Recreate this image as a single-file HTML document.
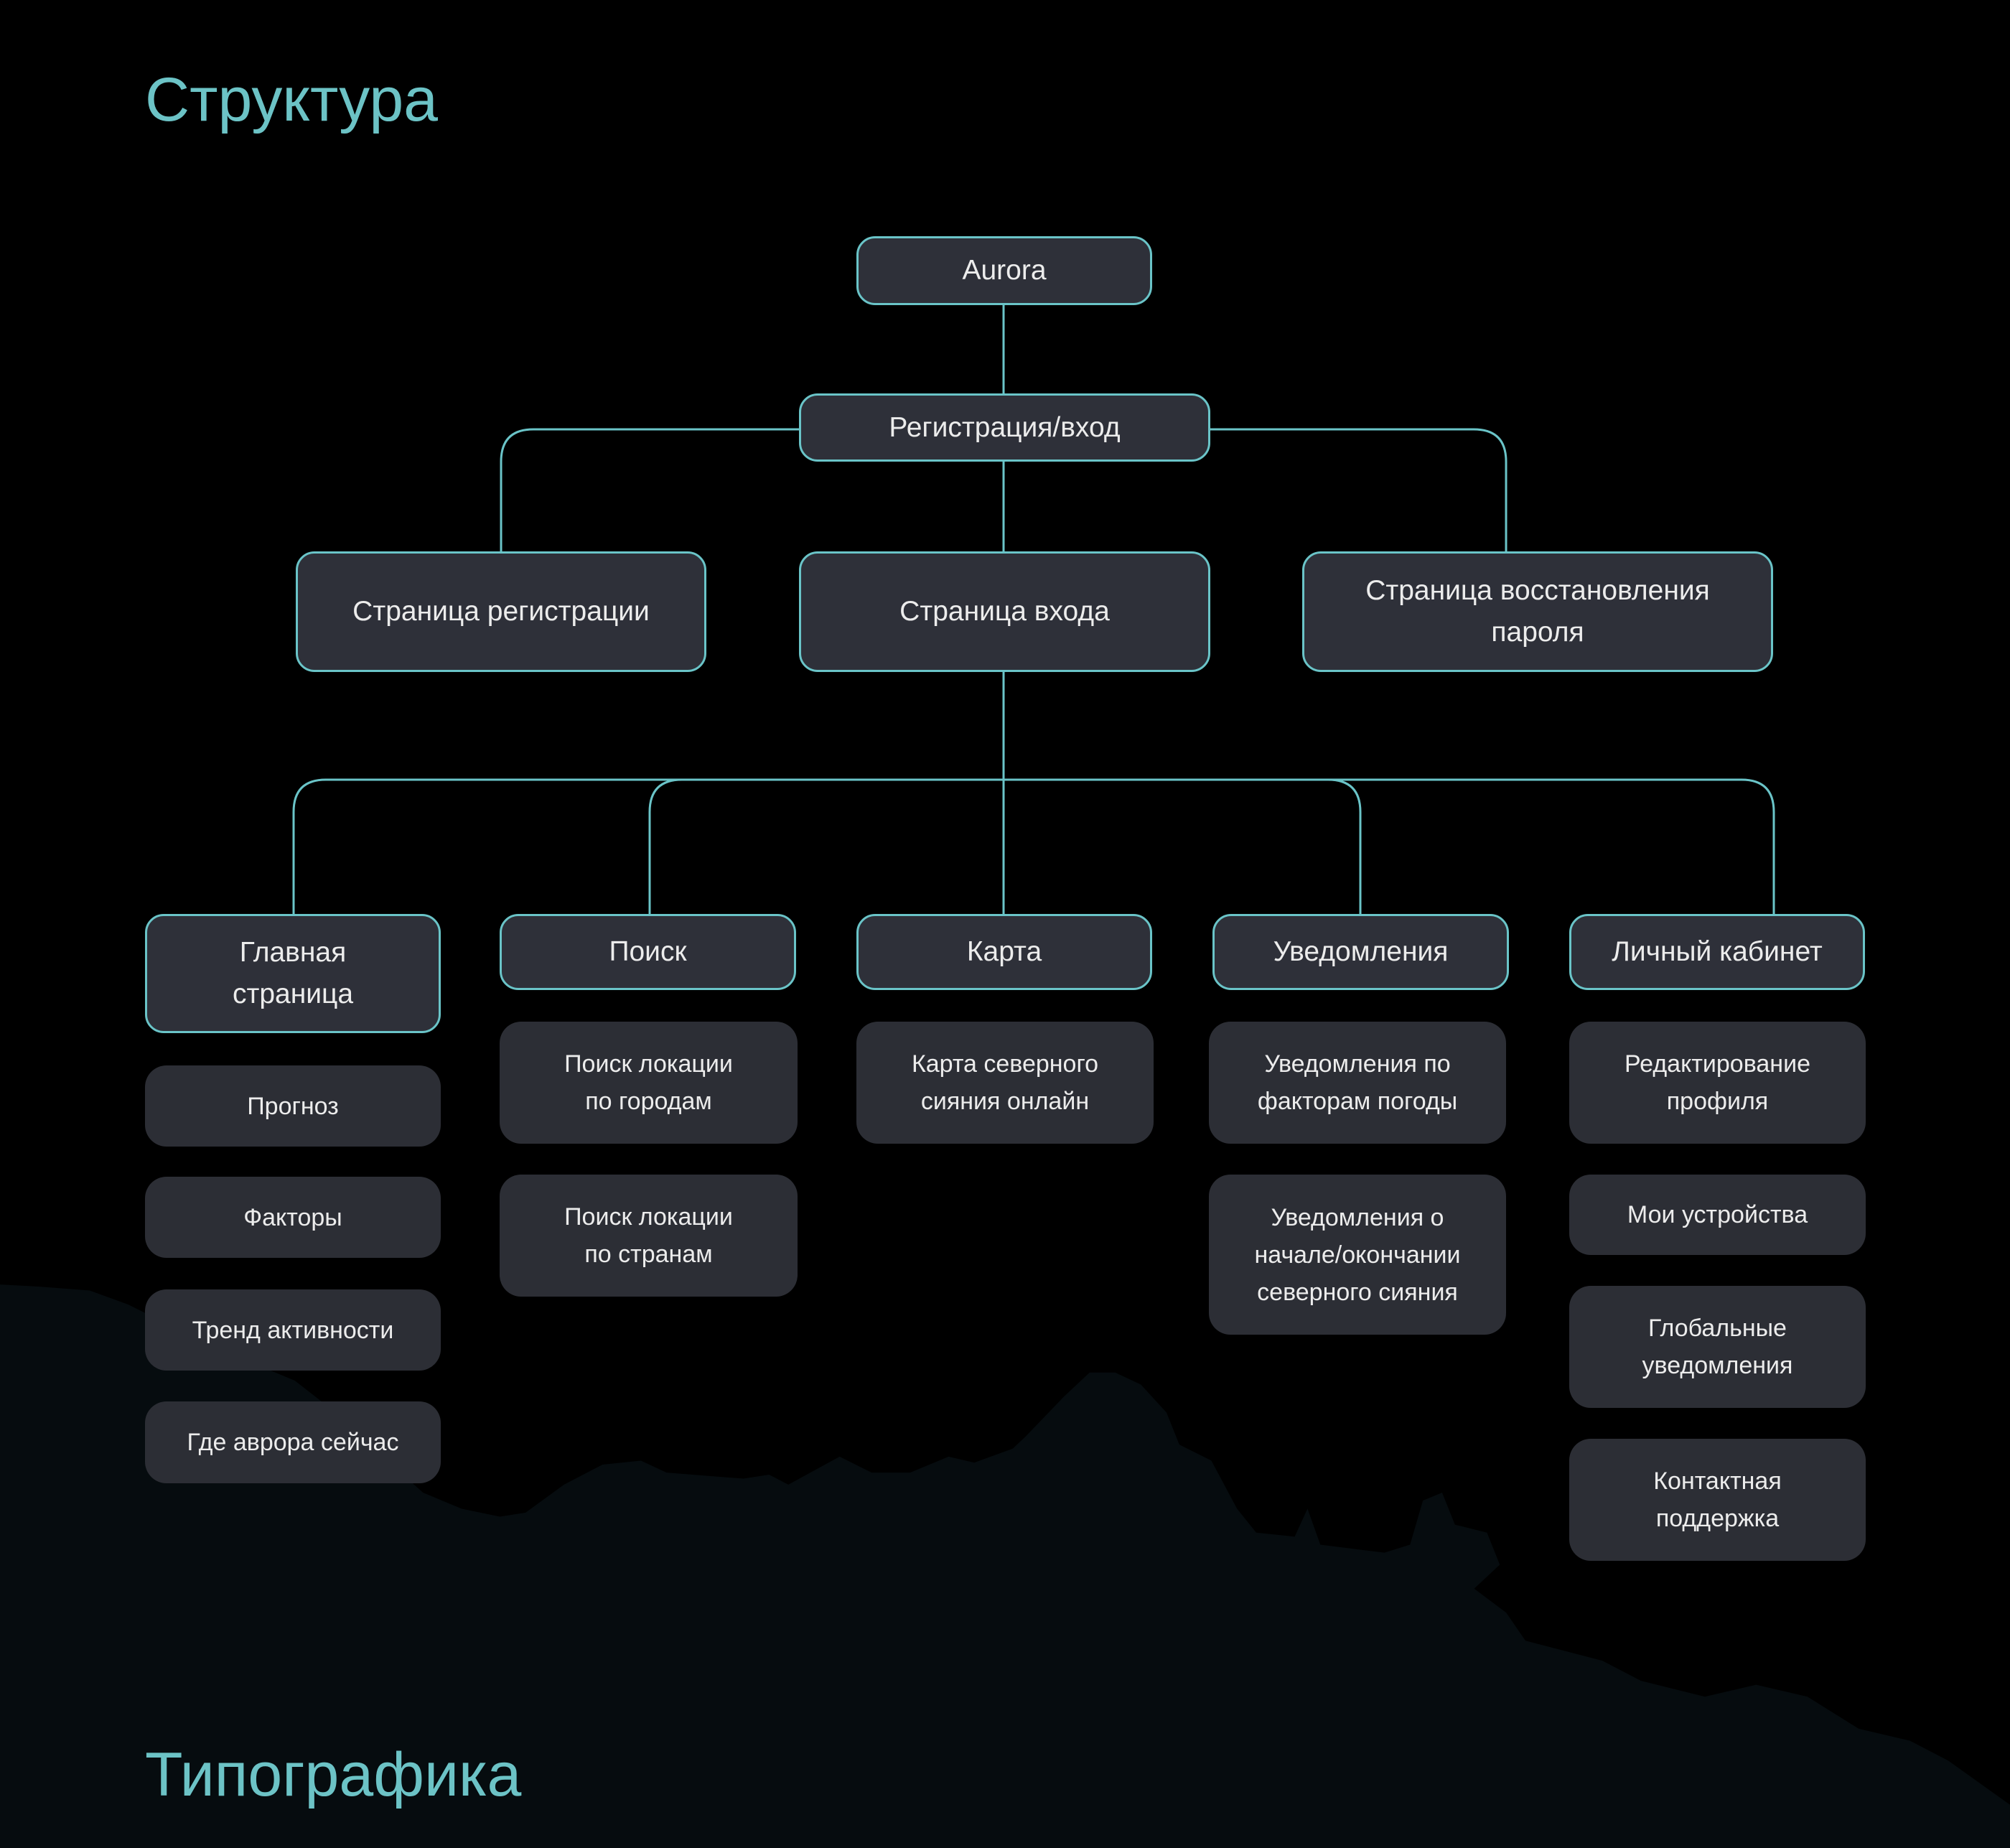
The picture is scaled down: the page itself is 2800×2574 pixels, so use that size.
<!DOCTYPE html>
<html><head><meta charset="utf-8"><style>
body{margin:0;width:2800px;height:2574px;background:#000;position:relative;overflow:hidden;font-family:"Liberation Sans","DejaVu Sans",sans-serif}
.t{position:absolute;color:#6cc3c6;font-size:86px;left:202px}
.b{position:absolute;box-sizing:border-box;display:flex;align-items:center;justify-content:center;text-align:center;color:#ececec}
.o{background:#2e3039;border:3px solid #6ac4c8;border-radius:26px;font-size:39px;line-height:58px}
.g{background:#2c2e35;border-radius:30px;font-size:34px;line-height:52px}
svg{position:absolute;left:0;top:0}
</style></head><body>
<svg width="2800" height="2574">
<g transform="translate(0,1700) scale(1.7857,0.5574)">
<polygon fill="#060c0f" points="0,160 30,165 70,175 100,210 150,290 200,360 230,400 250,450 330,680 360,720 390,740 410,730 440,660 470,610 500,600 520,630 580,645 600,635 615,660 655,590 680,630 710,630 740,590 760,605 790,570 800,540 830,440 850,380 870,380 890,410 910,480 920,560 945,600 965,720 980,780 1010,790 1020,720 1030,810 1080,830 1100,810 1110,700 1125,680 1135,760 1160,780 1170,860 1150,920 1175,980 1190,1050 1250,1100 1280,1150 1330,1190 1370,1160 1410,1190 1450,1270 1490,1300 1520,1350 1568,1460 1568,1568 0,1568"/>
</g>
<g fill="none" stroke="#6ac4c8" stroke-width="3">
<path d="M1398 425V548M1398 643V768M1398 936V1273"/>
<path d="M1113 598H743Q698 598 698 643V768"/>
<path d="M1686 598H2053Q2098 598 2098 643V768"/>
<path d="M409 1273V1131Q409 1086 454 1086H2426Q2471 1086 2471 1131V1273"/>
<path d="M905 1273V1131Q905 1086 950 1086M1895 1273V1131Q1895 1086 1850 1086"/>
</g>
</svg>
<div class="t" style="top:90px">Структура</div>
<div class="t" style="top:2423px">Типографика</div>

<div class="b o" style="left:1193px;top:329px;width:412px;height:96px">Aurora</div>
<div class="b o" style="left:1113px;top:548px;width:573px;height:95px">Регистрация/вход</div>
<div class="b o" style="left:412px;top:768px;width:572px;height:168px">Страница регистрации</div>
<div class="b o" style="left:1113px;top:768px;width:573px;height:168px">Страница входа</div>
<div class="b o" style="left:1814px;top:768px;width:656px;height:168px">Страница восстановления<br>пароля</div>

<div class="b o" style="left:202px;top:1273px;width:412px;height:166px">Главная<br>страница</div>
<div class="b o" style="left:696px;top:1273px;width:413px;height:106px">Поиск</div>
<div class="b o" style="left:1193px;top:1273px;width:412px;height:106px">Карта</div>
<div class="b o" style="left:1689px;top:1273px;width:413px;height:106px">Уведомления</div>
<div class="b o" style="left:2186px;top:1273px;width:412px;height:106px">Личный кабинет</div>

<div class="b g" style="left:202px;top:1484px;width:412px;height:113px">Прогноз</div>
<div class="b g" style="left:202px;top:1639px;width:412px;height:113px">Факторы</div>
<div class="b g" style="left:202px;top:1796px;width:412px;height:113px">Тренд активности</div>
<div class="b g" style="left:202px;top:1952px;width:412px;height:114px">Где аврора сейчас</div>

<div class="b g" style="left:696px;top:1423px;width:415px;height:170px">Поиск локации<br>по городам</div>
<div class="b g" style="left:696px;top:1636px;width:415px;height:170px">Поиск локации<br>по странам</div>

<div class="b g" style="left:1193px;top:1423px;width:414px;height:170px">Карта северного<br>сияния онлайн</div>

<div class="b g" style="left:1684px;top:1423px;width:414px;height:170px">Уведомления по<br>факторам погоды</div>
<div class="b g" style="left:1684px;top:1636px;width:414px;height:223px">Уведомления о<br>начале/окончании<br>северного сияния</div>

<div class="b g" style="left:2186px;top:1423px;width:413px;height:170px">Редактирование<br>профиля</div>
<div class="b g" style="left:2186px;top:1636px;width:413px;height:112px">Мои устройства</div>
<div class="b g" style="left:2186px;top:1791px;width:413px;height:170px">Глобальные<br>уведомления</div>
<div class="b g" style="left:2186px;top:2004px;width:413px;height:170px">Контактная<br>поддержка</div>
</body></html>
